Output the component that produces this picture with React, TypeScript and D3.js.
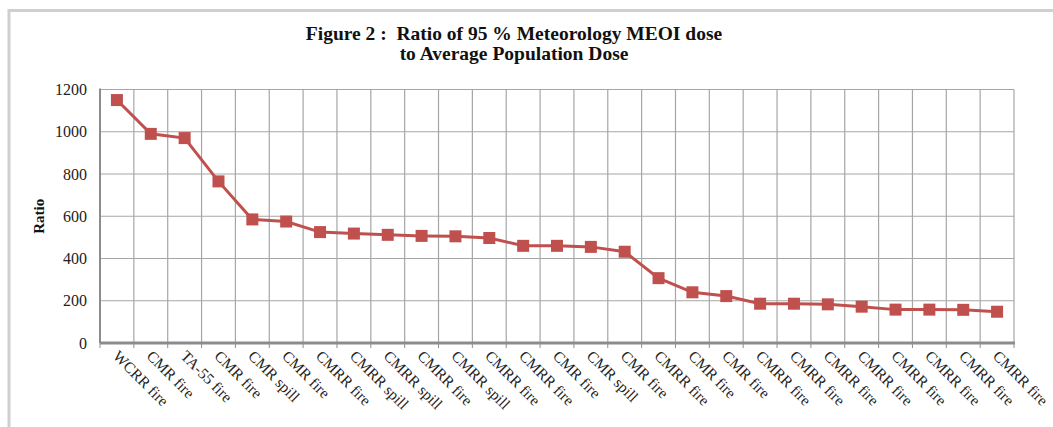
import React from 'react';
import * as d3 from 'd3';

// categories along the x axis, in chart order
const categories = [
  'WCRR fire', 'CMR fire', 'TA-55 fire', 'CMR fire', 'CMR spill', 'CMR fire',
  'CMRR fire', 'CMRR spill', 'CMRR spill', 'CMRR fire', 'CMRR spill', 'CMRR fire',
  'CMRR fire', 'CMR fire', 'CMR spill', 'CMR fire', 'CMRR fire', 'CMR fire',
  'CMR fire', 'CMRR fire', 'CMRR fire', 'CMRR fire', 'CMRR fire', 'CMRR fire',
  'CMRR fire', 'CMRR fire', 'CMRR fire',
];

// ratio values
const ratios = [
  1150, 990, 970, 765, 585, 575, 525, 518, 512, 507, 505, 497, 460, 460,
  455, 432, 307, 240, 222, 186, 186, 183, 172, 158, 158, 157, 148,
];

const yTicks = [0, 200, 400, 600, 800, 1000, 1200];

const titleLines = [
  'Figure 2 :\u00a0 Ratio of 95 % Meteorology MEOI dose',
  'to Average Population Dose',
];

const W = 1053;
const H = 427;
const plot = { left: 100, right: 1014, top: 89.5, bottom: 343 };
const red = '#C0504D';
const serif = '"Liberation Serif", "Times New Roman", serif';

const App = () => {
  const x = d3.scaleBand<number>()
    .domain(d3.range(categories.length))
    .range([plot.left, plot.right])
    .padding(0);

  const y = d3.scaleLinear()
    .domain([0, 1200])
    .range([plot.bottom, plot.top]);

  const cx = (i: number) => (x(i) as number) + x.bandwidth() / 2;

  const line = d3.line<number>()
    .x((_, i) => cx(i))
    .y(d => y(d));

  const boundaries = d3.range(categories.length + 1).map(i =>
    i < categories.length ? (x(i) as number) : plot.right);

  return (
    <svg width={W} height={H} style={{ position: 'absolute', left: 0, top: 0, background: '#fff' }}>
      {/* outer frame, cut off at right and bottom */}
      <line x1={9} x2={W} y1={10.5} y2={10.5} stroke="#cfcfcf" strokeWidth={3} />
      <line x1={9} x2={9} y1={9} y2={H} stroke="#cfcfcf" strokeWidth={3} />

      {/* title */}
      {titleLines.map((t, i) => (
        <text key={i} x={514} y={40 + i * 20} textAnchor="middle"
          fontFamily={serif} fontWeight="bold" fontSize={19.5} fill="#111">{t}</text>
      ))}

      {/* horizontal gridlines */}
      {yTicks.filter(v => v > 0).map(v => (
        <line key={v} x1={plot.left} x2={plot.right} y1={y(v)} y2={y(v)} stroke="#a6a6a6" strokeWidth={1.2} />
      ))}
      {/* vertical gridlines */}
      {boundaries.map((bx, i) => (
        <line key={i} x1={bx} x2={bx} y1={plot.top} y2={plot.bottom} stroke="#a6a6a6" strokeWidth={1.2} />
      ))}
      {/* x-axis tick marks */}
      {boundaries.map((bx, i) => (
        <line key={'t' + i} x1={bx} x2={bx} y1={plot.bottom} y2={plot.bottom + 5} stroke="#8c8c8c" strokeWidth={1} />
      ))}

      {/* axes */}
      <line x1={plot.left} x2={plot.left} y1={plot.top - 1} y2={plot.bottom} stroke="#8c8c8c" strokeWidth={2} />
      <line x1={plot.left} x2={plot.right + 1} y1={plot.bottom} y2={plot.bottom} stroke="#8c8c8c" strokeWidth={3} />

      {/* y tick labels */}
      {yTicks.map(v => (
        <text key={v} x={87} y={y(v)} dy="0.35em" textAnchor="end"
          fontFamily={serif} fontSize={16} fill="#222">{v}</text>
      ))}
      <text transform={`translate(44,${(plot.top + plot.bottom) / 2}) rotate(-90)`} textAnchor="middle"
        fontFamily={serif} fontWeight="bold" fontSize={15} fill="#111">Ratio</text>

      {/* x category labels */}
      {categories.map((c, i) => (
        <text key={i} transform={`translate(${cx(i) - 5},${plot.bottom + 14}) rotate(45)`}
          fontFamily={serif} fontSize={15.5} fill="#222">{c}</text>
      ))}

      {/* series line and square markers */}
      <path d={line(ratios) ?? ''} fill="none" stroke={red} strokeWidth={3} />
      {ratios.map((v, i) => (
        <rect key={i} x={cx(i) - 6} y={y(v) - 6} width={12} height={12} fill={red} />
      ))}
    </svg>
  );
};

export default App;
